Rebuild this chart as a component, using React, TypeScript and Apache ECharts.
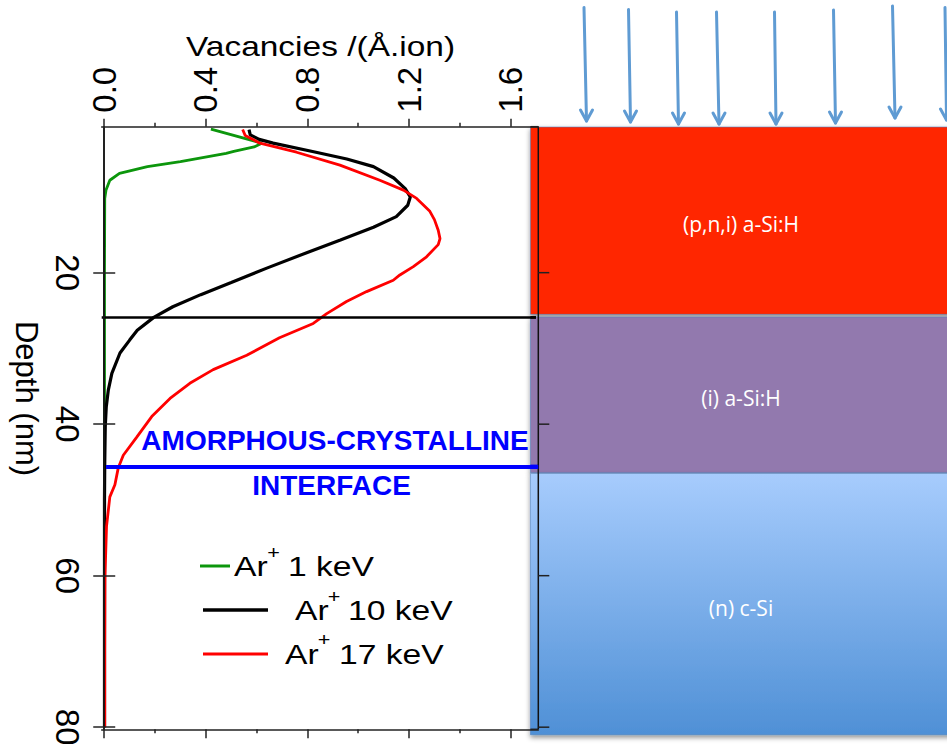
import React, { useEffect, useRef } from 'react';
import * as echarts from 'echarts';

// ---------------- data ----------------
const seriesNames = ['Ar+ 1 keV', 'Ar+ 10 keV', 'Ar+ 17 keV'];

const depth1keV = [1.05, 2.9, 3.4, 4.0, 4.25, 5.35, 6.0, 6.9, 7.8, 9.1, 10.2, 20, 40, 60, 80];
const vac1keV = [0.42, 0.62, 0.59, 0.51, 0.48, 0.3, 0.17, 0.06, 0.022, 0.007, 0.002, 0.001, 0.001, 0.001, 0.001];

const depth10keV = [1.1, 1.8, 2.4, 2.9, 4.0, 5.0, 6.0, 7.5, 8.9, 10.0, 11.1, 12.6, 14.0, 15.7, 17.2, 19.4, 21.3, 22.9, 24.5, 25.9, 27.6, 28.9, 30.6, 33.3, 35.5, 37.7, 40.3, 45, 50, 60, 70, 80];
const vac10keV = [0.57, 0.575, 0.61, 0.665, 0.82, 0.955, 1.06, 1.14, 1.185, 1.205, 1.195, 1.15, 1.06, 0.93, 0.81, 0.64, 0.5, 0.38, 0.27, 0.195, 0.13, 0.1, 0.062, 0.03, 0.016, 0.008, 0.004, 0.002, 0.001, 0.001, 0.001, 0.001];

const depth17keV = [1.1, 1.9, 2.9, 4.1, 5.8, 7.8, 9.1, 10.2, 11.9, 13.0, 14.4, 15.5, 16.3, 17.9, 19.2, 20.3, 21.0, 22.5, 23.8, 25.4, 26.7, 28.6, 30.9, 32.8, 34.6, 36.6, 39.0, 41.7, 44.1, 45.8, 48.0, 49.6, 53.5, 60, 70, 80];
const vac17keV = [0.545, 0.555, 0.613, 0.757, 0.928, 1.085, 1.178, 1.23, 1.282, 1.3, 1.315, 1.322, 1.315, 1.269, 1.217, 1.164, 1.138, 1.033, 0.954, 0.876, 0.823, 0.69, 0.561, 0.429, 0.337, 0.259, 0.187, 0.128, 0.075, 0.055, 0.042, 0.022, 0.009, 0.003, 0.002, 0.002];

const xMajorTicks = [0, 0.4, 0.8, 1.2, 1.6];
const xMinorTicks = [0.2, 0.6, 1.0, 1.4];
const yTicks = [20, 40, 60, 80];

const boundaryDepth = 25.9; // p/i boundary (nm)
const interfaceDepth = 45.6; // amorphous-crystalline interface (nm)

// device layer stack (depth ranges, nm)
const layerNames = ['(p,n,i) a-Si:H', '(i) a-Si:H', '(n) c-Si'];
const layerTop = [0.77, 25.85, 46.5];
const layerBottom = [25.5, 46.4, 81.0];

// ---------------- layout / style ----------------
const X_MIN = -0.01;
const X_MAX = 1.709;
const Y_MIN = 0.73;
const Y_MAX = 80.28;
const BOUNDARY_END = 1.7;
const BOX_X0 = 1.678; // left edge of layer drawing, in x-axis units
const BOX_X1 = 3.34;
const COLORS = ['#0c960c', '#000000', '#ff0000'];
const WIDTHS = [2.8, 3.2, 2.8];
const NARROW = "'Liberation Sans Narrow', 'Arial Narrow', 'Liberation Sans', sans-serif";
const SANS = "'Liberation Sans', Arial, sans-serif";
const LAYER_FONT = "'Open Sans', 'Noto Sans', sans-serif";
const ARROW_COLOR = '#5f9bd3';
const arrowGeom = [
  [584, 7.5, 586.5, 121],
  [628.5, 9.5, 630.5, 122],
  [676.5, 12, 678.5, 124],
  [716.5, 12, 719, 124],
  [774.5, 12, 776, 124],
  [833.5, 10, 835.5, 123],
  [892.5, 6, 895, 118],
  [945, 7.5, 946.5, 120],
];

const zip = (d: number[], v: number[]) => d.map((dd, i) => [v[i], dd]);

export default function App() {
  const ref = useRef<HTMLDivElement>(null);
  useEffect(() => {
    if (!ref.current) return;
    const chart = echarts.init(ref.current, null, { renderer: 'svg' });
    const lineSt = { color: '#222', width: 1.5 };
    const xBase: any = { type: 'value', min: X_MIN, max: X_MAX, splitLine: { show: false }, z: 30 };
    const yBase: any = { type: 'value', min: Y_MIN, max: Y_MAX, inverse: true, splitLine: { show: false }, z: 30 };

    const layerFills: any[] = [
      '#ff2600',
      '#9279ae',
      new echarts.graphic.LinearGradient(0, 0, 0, 1, [
        { offset: 0, color: '#a7ccfd' },
        { offset: 1, color: '#4f90d6' },
      ]),
    ];

    const arrows: any[] = [];
    arrowGeom.forEach(([x0, y0, x1, y1]) => {
      arrows.push({
        type: 'line', z: 1,
        shape: { x1: x0, y1: y0, x2: x1, y2: y1 },
        style: { stroke: ARROW_COLOR, lineWidth: 3, lineCap: 'round' },
      });
      arrows.push({
        type: 'polyline', z: 1,
        shape: { points: [[x1 - 6, y1 - 11], [x1, y1], [x1 + 6, y1 - 11]] },
        style: { stroke: ARROW_COLOR, lineWidth: 3, lineCap: 'round', lineJoin: 'round', fill: null },
      });
    });

    const legendItems = [
      { lx1: 200, lx2: 230, y: 566, ax: 234, px: 273.5, py: 553, nx: 288, rest: '1 keV' },
      { lx1: 203, lx2: 268, y: 610, ax: 295, px: 334, py: 597, nx: 348, rest: '10 keV' },
      { lx1: 203, lx2: 268, y: 654, ax: 285, px: 324, py: 640, nx: 339, rest: '17 keV' },
    ];
    const legendGraphics: any[] = [];
    legendItems.forEach((it, i) => {
      legendGraphics.push({
        type: 'line', z: 40,
        shape: { x1: it.lx1, y1: it.y, x2: it.lx2, y2: it.y },
        style: { stroke: COLORS[i], lineWidth: i === 1 ? 3.5 : 3 },
      });
      const t = { fill: '#000', fontFamily: SANS, fontSize: 28, verticalAlign: 'middle', align: 'left' };
      legendGraphics.push({ type: 'text', z: 40, x: it.ax, y: it.y, scaleX: 1.2, style: { ...t, text: 'Ar' } });
      legendGraphics.push({ type: 'text', z: 40, x: it.px, y: it.py, scaleX: 1.2, style: { ...t, text: '+', fontSize: 18, align: 'center' } });
      legendGraphics.push({ type: 'text', z: 40, x: it.nx, y: it.y, scaleX: 1.2, style: { ...t, text: it.rest } });
    });

    const option: any = {
      animation: false,
      backgroundColor: '#ffffff',
      grid: { left: 101.7, top: 126.7, right: 408.7, bottom: 14.7, containLabel: false, outerBoundsMode: 'none' },
      xAxis: [
        {
          ...xBase, position: 'top',
          axisLine: { show: true, lineStyle: lineSt },
          axisTick: { show: true, customValues: xMajorTicks, length: 8, lineStyle: lineSt },
          axisLabel: {
            show: true, customValues: xMajorTicks, rotate: -90, margin: 14,
            formatter: (v: number) => v.toFixed(1),
            fontSize: 33, fontFamily: NARROW, color: '#000',
          },
        },
        {
          ...xBase, position: 'top',
          axisLine: { show: false },
          axisTick: { show: true, customValues: xMinorTicks, length: 4, lineStyle: lineSt },
          axisLabel: { show: false },
        },
        {
          ...xBase, position: 'bottom',
          axisLine: { show: true, lineStyle: lineSt },
          axisTick: { show: true, customValues: xMajorTicks, length: 9, lineStyle: lineSt },
          axisLabel: { show: false },
        },
        {
          ...xBase, position: 'bottom',
          axisLine: { show: false },
          axisTick: { show: true, customValues: xMinorTicks, length: 4, lineStyle: lineSt },
          axisLabel: { show: false },
        },
      ],
      yAxis: [
        {
          ...yBase, position: 'left',
          axisLine: { show: true, lineStyle: lineSt },
          axisTick: { show: true, customValues: yTicks, length: 11, lineStyle: lineSt },
          axisLabel: {
            show: true, customValues: yTicks, rotate: -90, margin: 18,
            fontSize: 33, fontFamily: NARROW, color: '#000',
          },
        },
        {
          ...yBase, position: 'right',
          axisLine: { show: true, lineStyle: { color: '#111', width: 1.5 } },
          axisTick: { show: true, customValues: yTicks, length: 11, lineStyle: lineSt },
          axisLabel: { show: false },
        },
      ],
      series: [
        {
          name: 'layers', type: 'custom', xAxisIndex: 0, yAxisIndex: 0, z: 1,
          clip: false, silent: true,
          data: layerNames.map((_, i) => [i, layerTop[i], layerBottom[i]]),
          encode: { x: 0, y: [1, 2] },
          renderItem: (params: any, api: any) => {
            const i = api.value(0);
            const p0 = api.coord([BOX_X0, api.value(1)]);
            const p1 = api.coord([BOX_X1, api.value(2)]);
            const children: any[] = [
              {
                type: 'rect',
                shape: { x: p0[0], y: p0[1], width: p1[0] - p0[0], height: p1[1] - p0[1] },
                style: {
                  fill: layerFills[i],
                  stroke: 'rgba(79,129,189,0.55)', lineWidth: 1,
                  shadowBlur: 5, shadowColor: 'rgba(0,0,0,0.45)', shadowOffsetY: 2.5,
                },
              },
              {
                type: 'text',
                x: 741, y: (p0[1] + p1[1]) / 2 + 3.5,
                style: {
                  text: layerNames[i], fill: '#ffffff', fontFamily: LAYER_FONT, fontSize: 21,
                  align: 'center', verticalAlign: 'middle',
                },
              },
            ];
            if (i === layerNames.length - 1) {
              // keep the plot's frame, its right ticks and the two depth markers visible over the layers
              const seg = (xa: number, ya: number, xb: number, yb: number, stroke: string, lw: number) => {
                const a = api.coord([xa, ya]);
                const b = api.coord([xb, yb]);
                children.push({ type: 'line', shape: { x1: a[0], y1: a[1], x2: b[0], y2: b[1] }, style: { stroke, lineWidth: lw } });
              };
              seg(BOX_X0, boundaryDepth, BOUNDARY_END, boundaryDepth, '#000', 2.5);
              seg(BOX_X0, interfaceDepth, X_MAX, interfaceDepth, '#0000ff', 4);
              seg(BOX_X0, Y_MIN, X_MAX, Y_MIN, '#222', 1.5);
              seg(BOX_X0, Y_MAX, X_MAX, Y_MAX, '#222', 1.5);
              seg(X_MAX, Y_MIN, X_MAX, Y_MAX, '#111', 1.5);
              yTicks.forEach((tv) => {
                const p = api.coord([X_MAX, tv]);
                children.push({ type: 'line', shape: { x1: p[0], y1: p[1], x2: p[0] + 11, y2: p[1] }, style: { stroke: '#222', lineWidth: 1.5 } });
              });
            }
            return { type: 'group', children };
          },
        },
        {
          name: seriesNames[0], type: 'line', xAxisIndex: 0, yAxisIndex: 0,
          data: zip(depth1keV, vac1keV), showSymbol: false, symbol: 'none', z: 20,
          lineStyle: { color: COLORS[0], width: WIDTHS[0] },
          markLine: {
            silent: true, symbol: ['none', 'none'], label: { show: false }, z: 25,
            data: [
              [
                { coord: [X_MIN, boundaryDepth], lineStyle: { color: '#000', width: 2.5, type: 'solid' } },
                { coord: [BOUNDARY_END, boundaryDepth] },
              ],
              [
                { coord: [0.007, interfaceDepth], lineStyle: { color: '#0000ff', width: 4, type: 'solid' } },
                { coord: [X_MAX, interfaceDepth] },
              ],
            ],
          },
        },
        {
          name: seriesNames[1], type: 'line', xAxisIndex: 0, yAxisIndex: 0,
          data: zip(depth10keV, vac10keV), showSymbol: false, symbol: 'none', z: 20,
          lineStyle: { color: COLORS[1], width: WIDTHS[1] },
        },
        {
          name: seriesNames[2], type: 'line', xAxisIndex: 0, yAxisIndex: 0,
          data: zip(depth17keV, vac17keV), showSymbol: false, symbol: 'none', z: 20,
          lineStyle: { color: COLORS[2], width: WIDTHS[2] },
        },
      ],
      graphic: [
        ...arrows,
        // axis titles
        {
          type: 'text', z: 40, x: 320.5, y: 46.5, scaleX: 1.24,
          style: { text: 'Vacancies /(Å.ion)', fill: '#000', fontFamily: SANS, fontSize: 27, align: 'center', verticalAlign: 'middle' },
        },
        {
          type: 'text', z: 40, x: 26, y: 398.5, rotation: -Math.PI / 2,
          style: { text: 'Depth (nm)', fill: '#000', fontFamily: NARROW, fontSize: 31, align: 'center', verticalAlign: 'middle' },
        },
        // interface annotation
        {
          type: 'text', z: 40, x: 335, y: 440,
          style: { text: 'AMORPHOUS-CRYSTALLINE', fill: '#0000ff', fontFamily: SANS, fontWeight: 'bold', fontSize: 28, align: 'center', verticalAlign: 'middle' },
        },
        {
          type: 'text', z: 40, x: 331.5, y: 485,
          style: { text: 'INTERFACE', fill: '#0000ff', fontFamily: SANS, fontWeight: 'bold', fontSize: 28, align: 'center', verticalAlign: 'middle' },
        },
        ...legendGraphics,
      ],
    };
    chart.setOption(option);
    return () => chart.dispose();
  }, []);

  return (
    <div
      ref={ref}
      style={{ position: 'fixed', left: 0, top: 0, width: 947, height: 744, background: '#fff' }}
    />
  );
}
